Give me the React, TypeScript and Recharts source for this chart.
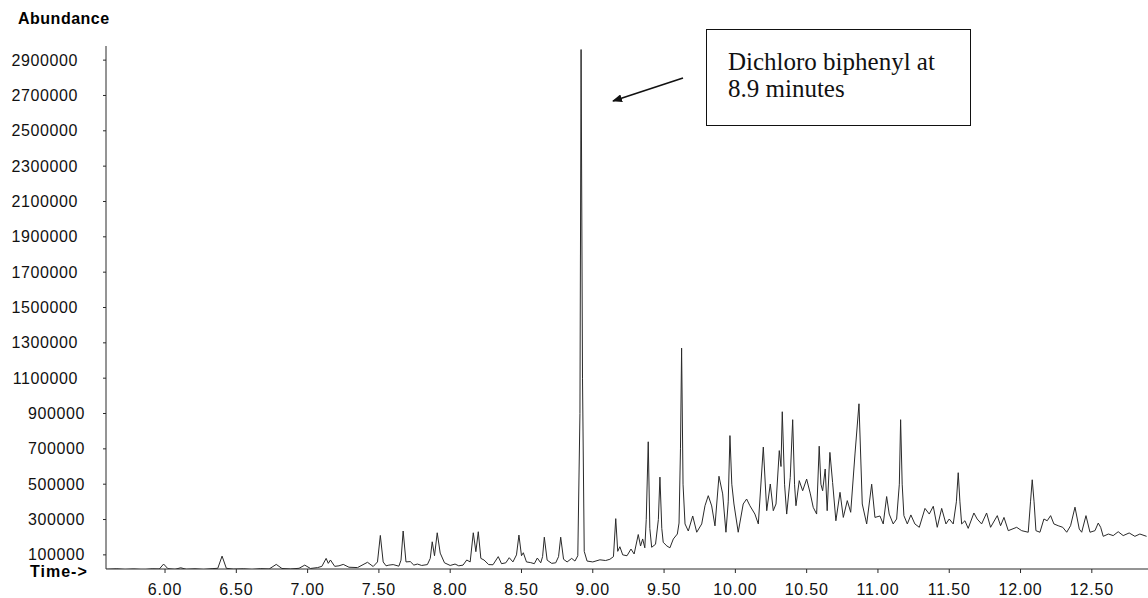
import { LineChart, Line, XAxis, YAxis } from "recharts";

// retention time (min) / abundance
const earlyTimes = [
    5.59, 5.66, 5.72, 5.78, 5.85, 5.91, 5.96, 5.99, 6.02, 6.07, 6.11, 6.15, 6.21, 6.27, 6.33, 6.37,
    6.4, 6.43, 6.48, 6.55, 6.61, 6.67, 6.73, 6.78, 6.82, 6.88, 6.94, 6.98, 7.02, 7.07, 7.1, 7.13,
    7.145, 7.16, 7.19, 7.22, 7.25, 7.29, 7.35, 7.42, 7.46, 7.49, 7.51, 7.53, 7.55, 7.57, 7.6, 7.64,
    7.655, 7.67, 7.69, 7.72, 7.745, 7.77, 7.8, 7.84, 7.86, 7.874, 7.89, 7.909, 7.93, 7.96, 8.0, 8.034,
    8.06, 8.09, 8.116, 8.14, 8.162, 8.18, 8.197, 8.215, 8.237, 8.27, 8.3, 8.337, 8.36, 8.39, 8.414, 8.44,
    8.465, 8.482, 8.5, 8.513, 8.535, 8.565, 8.59, 8.611, 8.635, 8.648, 8.66, 8.68, 8.712, 8.74, 8.76, 8.775,
    8.795, 8.82, 8.852, 8.875, 8.895,
]
const earlyAbundance = [
    18000, 21000, 17000, 20000, 16000, 21000, 20000, 48000, 22000, 18000, 27000, 18000, 21000, 17000, 22000, 24000,
    93000, 24000, 19000, 21000, 17000, 22000, 20000, 46000, 23000, 20000, 24000, 42000, 23000, 28000, 35000, 80000,
    52000, 71000, 35000, 38000, 46000, 30000, 28000, 58000, 34000, 60000, 210000, 60000, 38000, 42000, 45000, 36000,
    70000, 235000, 60000, 62000, 42000, 48000, 40000, 45000, 80000, 174000, 95000, 225000, 110000, 55000, 40000, 48000,
    38000, 42000, 71000, 60000, 225000, 118000, 231000, 80000, 71000, 45000, 44000, 90000, 50000, 55000, 84000, 60000,
    100000, 212000, 95000, 112000, 60000, 56000, 50000, 82000, 55000, 90000, 200000, 70000, 52000, 55000, 90000, 200000,
    75000, 60000, 80000, 65000, 95000,
]

// dichloro biphenyl
const mainPeakTimes = [8.91, 8.918, 8.928, 8.94, 8.96]
const mainPeakAbundance = [900000, 2960000, 1100000, 120000, 65000]

const lateTimes = [
    9.0, 9.05, 9.09, 9.12, 9.145, 9.161, 9.175, 9.19, 9.21, 9.24, 9.268, 9.29, 9.319, 9.335, 9.35, 9.365,
    9.375, 9.389, 9.4, 9.413, 9.44, 9.46, 9.471, 9.484, 9.494, 9.52, 9.541, 9.565, 9.593, 9.605, 9.615, 9.623,
    9.633, 9.647, 9.67, 9.701, 9.729, 9.764, 9.787, 9.81, 9.834, 9.857, 9.885, 9.911, 9.934, 9.95, 9.962, 9.975,
    9.99, 10.02, 10.055, 10.079, 10.102, 10.137, 10.161, 10.196, 10.22, 10.245, 10.266, 10.285, 10.308, 10.32, 10.329, 10.345,
    10.36, 10.385, 10.402, 10.415, 10.425, 10.448, 10.472, 10.5, 10.526, 10.546, 10.57, 10.588, 10.6, 10.612, 10.63, 10.644,
    10.663, 10.682, 10.705, 10.734, 10.757, 10.785, 10.809, 10.839, 10.867, 10.89, 10.921, 10.956, 10.979, 11.014, 11.037, 11.061,
    11.079, 11.107, 11.131, 11.15, 11.159, 11.17, 11.182, 11.206, 11.231, 11.259, 11.29, 11.33, 11.36, 11.388, 11.416, 11.447,
    11.477, 11.5, 11.528, 11.55, 11.563, 11.575, 11.587, 11.61, 11.633, 11.673, 11.696, 11.727, 11.762, 11.79, 11.837, 11.86,
    11.884, 11.914, 11.973, 12.008, 12.054, 12.07, 12.082, 12.095, 12.108, 12.136, 12.164, 12.187, 12.211, 12.234, 12.264, 12.296,
    12.324, 12.351, 12.382, 12.412, 12.429, 12.459, 12.487, 12.522, 12.545, 12.562, 12.58, 12.616, 12.65, 12.685, 12.72, 12.762,
    12.802, 12.837, 12.884,
]
const lateAbundance = [
    60000, 72000, 68000, 75000, 90000, 305000, 120000, 146000, 100000, 95000, 133000, 105000, 215000, 150000, 190000, 140000,
    300000, 740000, 250000, 143000, 160000, 300000, 540000, 250000, 171000, 150000, 140000, 190000, 218000, 280000, 700000, 1270000,
    500000, 275000, 235000, 320000, 228000, 275000, 378000, 435000, 377000, 264000, 545000, 445000, 228000, 400000, 775000, 500000,
    388000, 228000, 388000, 416000, 378000, 331000, 275000, 710000, 350000, 501000, 350000, 388000, 690000, 600000, 910000, 500000,
    331000, 539000, 865000, 500000, 378000, 520000, 463000, 529000, 445000, 369000, 331000, 715000, 500000, 463000, 586000, 350000,
    680000, 510000, 293000, 454000, 312000, 407000, 341000, 671000, 955000, 388000, 275000, 500000, 312000, 320000, 275000, 430000,
    331000, 275000, 303000, 500000, 865000, 500000, 322000, 275000, 326000, 275000, 256000, 363000, 331000, 375000, 256000, 363000,
    275000, 303000, 275000, 400000, 565000, 400000, 275000, 293000, 250000, 337000, 303000, 275000, 337000, 256000, 322000, 265000,
    312000, 237000, 256000, 237000, 228000, 400000, 525000, 400000, 237000, 228000, 303000, 293000, 322000, 275000, 265000, 256000,
    228000, 265000, 370000, 246000, 228000, 322000, 228000, 237000, 280000, 256000, 205000, 218000, 209000, 231000, 209000, 224000,
    205000, 218000, 205000,
]

const timeTicks = [6, 6.5, 7, 7.5, 8, 8.5, 9, 9.5, 10, 10.5, 11, 11.5, 12, 12.5]
const abundanceTicks = [
    100000, 300000, 500000, 700000, 900000, 1100000, 1300000, 1500000,
    1700000, 1900000, 2100000, 2300000, 2500000, 2700000, 2900000,
]

const times = [...earlyTimes, ...mainPeakTimes, ...lateTimes]
const abundance = [...earlyAbundance, ...mainPeakAbundance, ...lateAbundance]
const data = times.map((t, i) => ({ t, abundance: abundance[i] }))

const SANS = "'Liberation Sans', Arial, sans-serif"
const SERIF = "'Liberation Serif', 'Times New Roman', serif"
const INK = "#2a2a2a"

function AbundanceTick({ x, y, payload }: any) {
    const label = String(payload.value)
    // the scan lines the 6-digit labels up a little to the right
    const shift = (7 - label.length) * 7
    return (
        <text x={x - 23 + shift} y={y} textAnchor="end" dominantBaseline="central"
            fontFamily={SANS} fontSize={16} letterSpacing={0.6} fill="#111">
            {label}
        </text>
    )
}

function TimeTick({ x, y, payload }: any) {
    return (
        <text x={x} y={y + 14} textAnchor="middle" dominantBaseline="central"
            fontFamily={SANS} fontSize={16} letterSpacing={0.8} fill="#111">
            {Number(payload.value).toFixed(2)}
        </text>
    )
}

export default function App() {
    return (
        <div style={{ position: "relative", width: 1148, height: 598, background: "#fff" }}>
            <style>{"body{margin:0}"}</style>
            <LineChart width={1148} height={598} data={data}
                margin={{ top: 46, right: 0, bottom: 0, left: 0 }}>
                <XAxis
                    dataKey="t"
                    type="number"
                    domain={[5.586, 12.894]}
                    ticks={timeTicks}
                    allowDataOverflow
                    height={29}
                    stroke={INK}
                    tickSize={4}
                    tick={<TimeTick />}
                />
                <YAxis
                    type="number"
                    domain={[20000, 2980000]}
                    ticks={abundanceTicks}
                    allowDataOverflow
                    width={106}
                    stroke={INK}
                    tickSize={3}
                    tick={<AbundanceTick />}
                />
                <Line
                    type="linear"
                    dataKey="abundance"
                    stroke={INK}
                    strokeWidth={1}
                    dot={false}
                    isAnimationActive={false}
                />
            </LineChart>

            <div style={{ position: "absolute", left: 18, top: 10, fontFamily: SANS, fontWeight: "bold", fontSize: 16, letterSpacing: 0.5 }}>
                Abundance
            </div>
            <div style={{ position: "absolute", left: 30, top: 563, fontFamily: SANS, fontWeight: "bold", fontSize: 16, letterSpacing: 1 }}>
                Time-&gt;
            </div>

            <svg width={1148} height={598} style={{ position: "absolute", left: 0, top: 0, pointerEvents: "none" }}>
                <defs>
                    <marker id="head" markerWidth="10" markerHeight="8" refX="9" refY="4" orient="auto" markerUnits="userSpaceOnUse">
                        <path d="M0,0 L10,4 L0,8 z" fill="#111" />
                    </marker>
                </defs>
                <line x1={683} y1={78} x2={613} y2={101} stroke="#111" strokeWidth={1.6} markerEnd="url(#head)" />
            </svg>

            <div style={{
                position: "absolute", left: 706, top: 29, width: 265, height: 97,
                border: "1.5px solid #111", fontFamily: SERIF, fontSize: 25, lineHeight: "27px",
                padding: "18px 0 0 21px", boxSizing: "border-box", color: "#111",
            }}>
                <div>Dichloro biphenyl at</div>
                <div>8.9 minutes</div>
            </div>
        </div>
    )
}
